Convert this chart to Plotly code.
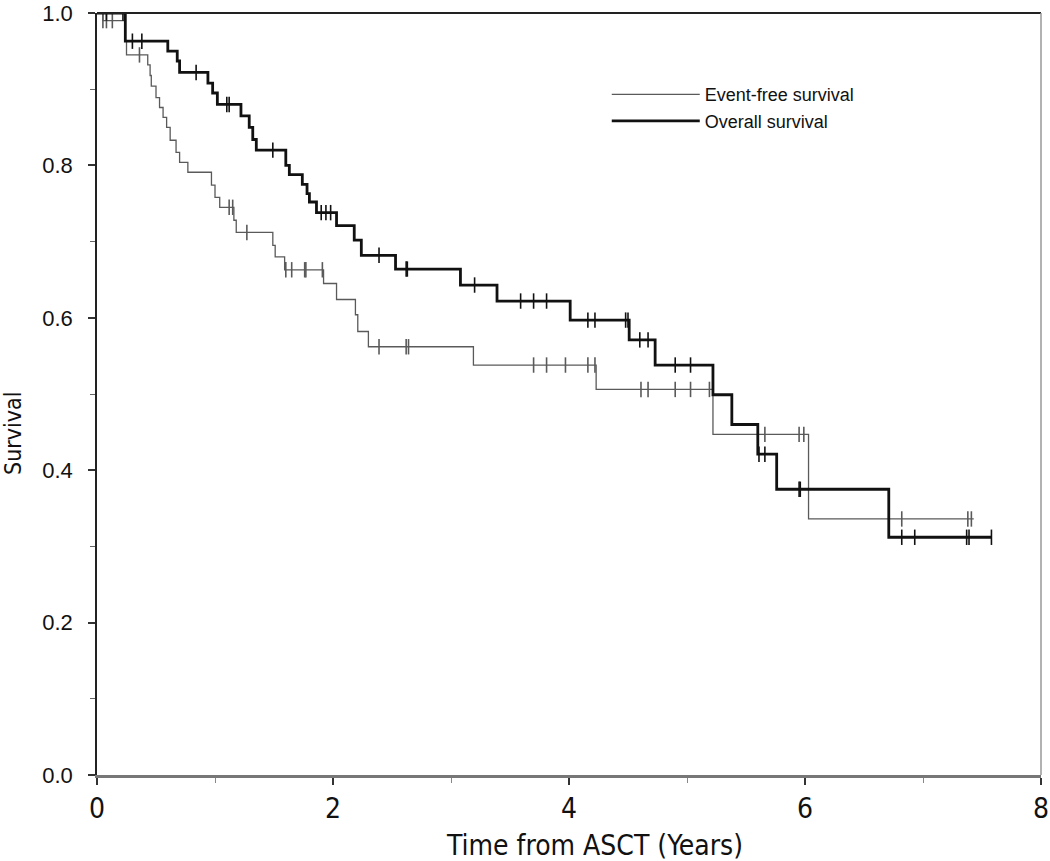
import numpy as np
import plotly.graph_objects as go

# Event-free survival: step times (years) and survival after each step
efs_t = [0.05, 0.24, 0.25, 0.43, 0.45, 0.46, 0.50, 0.53, 0.56, 0.59, 0.62, 0.67, 0.70,
         0.77, 0.97, 1.00, 1.04, 1.16, 1.18, 1.49, 1.51, 1.59, 1.92, 2.03, 2.19, 2.21,
         2.30, 3.19, 4.23, 5.22, 6.03]
efs_s = [0.990, 0.963, 0.945, 0.932, 0.918, 0.904, 0.889, 0.876, 0.863, 0.850, 0.833, 0.817, 0.804,
         0.791, 0.774, 0.758, 0.745, 0.728, 0.712, 0.695, 0.680, 0.663, 0.645, 0.624, 0.604, 0.582,
         0.562, 0.538, 0.506, 0.447, 0.336]
efs_end = 7.43
efs_cens = [0.05, 0.08, 0.13, 0.36, 1.12, 1.15, 1.27, 1.60, 1.65, 1.76, 1.77, 1.91, 2.39, 2.62,
            2.64, 3.70, 3.81, 3.97, 4.16, 4.22, 4.61, 4.67, 4.90, 5.03, 5.19, 5.66, 5.95, 5.99,
            6.82, 7.38, 7.41]

# Overall survival
os_t = [0.24, 0.60, 0.68, 0.70, 0.94, 0.98, 1.02, 1.22, 1.29, 1.32, 1.35, 1.60, 1.63, 1.74,
        1.78, 1.80, 1.86, 2.03, 2.18, 2.24, 2.53, 3.08, 3.39, 4.01, 4.51, 4.73, 5.22, 5.38,
        5.60, 5.76, 6.71]
os_s = [0.963, 0.950, 0.937, 0.922, 0.908, 0.895, 0.880, 0.865, 0.850, 0.834, 0.820, 0.800, 0.788, 0.775,
        0.763, 0.752, 0.738, 0.721, 0.702, 0.682, 0.664, 0.643, 0.622, 0.597, 0.571, 0.538, 0.499, 0.460,
        0.421, 0.375, 0.312]
os_end = 7.58
os_cens = [0.08, 0.22, 0.30, 0.38, 0.84, 1.10, 1.12, 1.49, 1.90, 1.94, 1.98, 2.39, 2.62, 2.63,
           3.20, 3.59, 3.70, 3.81, 4.16, 4.22, 4.48, 4.50, 4.60, 4.67, 4.90, 5.03, 5.61, 5.66,
           5.95, 5.96, 6.82, 6.93, 7.37, 7.39, 7.58]

series_names = ["Event-free survival", "Overall survival"]
x_ticks = [0, 2, 4, 6, 8]
y_ticks = [0.0, 0.2, 0.4, 0.6, 0.8, 1.0]
x_title = "Time from ASCT (Years)"
y_title = "Survival"

NARROW = "DejaVu Sans Condensed, Liberation Sans, Arial, sans-serif"
SANS = "Liberation Sans, Arial, sans-serif"


def step_path(t, s, end):
    return [0.0] + list(t) + [end], [1.0] + list(s) + [s[-1]]


def surv_at(t, s, c):
    t = np.asarray(t)
    s = np.asarray(s)
    out = []
    for ci in c:
        k = np.searchsorted(t, ci, side="right")
        out.append(1.0 if k == 0 else float(s[k - 1]))
    return out


fig = go.Figure()
styles = [
    dict(color="#5a5a5a", width=1.3),
    dict(color="#111111", width=2.8),
]
data = [(efs_t, efs_s, efs_end, efs_cens), (os_t, os_s, os_end, os_cens)]
for (t, s, end, c), name, st in zip(data, series_names, styles):
    xs, ys = step_path(t, s, end)
    fig.add_trace(go.Scatter(x=xs, y=ys, mode="lines", line=dict(shape="hv", **st),
                             name=name, legendgroup=name))
    fig.add_trace(go.Scatter(x=c, y=surv_at(t, s, c), mode="markers", showlegend=False,
                             legendgroup=name,
                             marker=dict(symbol="line-ns", size=11,
                                         line=dict(color=st["color"], width=1.6))))

fig.update_layout(
    width=1050, height=861,
    margin=dict(l=97, r=9, t=13, b=86, autoexpand=False),
    paper_bgcolor="white", plot_bgcolor="white",
    showlegend=True,
    legend=dict(x=0.54, y=0.917, xanchor="left", yanchor="top",
                font=dict(family=SANS, size=18, color="#111"),
                bgcolor="rgba(0,0,0,0)", itemwidth=88, tracegroupgap=0),
    font=dict(family=NARROW, color="#111"),
)
fig.update_xaxes(
    range=[0, 8], tickvals=x_ticks, ticktext=[str(v) for v in x_ticks],
    ticks="outside", ticklen=7, tickwidth=1.5, tickcolor="#333",
    minor=dict(dtick=1, ticks="outside", ticklen=5, tickcolor="#888", tickwidth=1),
    showgrid=False, zeroline=False, automargin=False,
    showline=True, linecolor="#777", linewidth=2.5,
    ticklabeloverflow="allow", ticklabelstandoff=0,
    tickfont=dict(family=NARROW, size=28),
)
fig.update_yaxes(
    range=[0, 1.0], tickvals=y_ticks, ticktext=["%.1f" % v for v in y_ticks],
    ticks="outside", ticklen=7, tickwidth=1.5, tickcolor="#333",
    minor=dict(dtick=0.1, ticks="outside", ticklen=5, tickcolor="#666", tickwidth=1),
    showgrid=False, zeroline=False, automargin=False,
    showline=True, linecolor="#222", linewidth=1.5,
    ticklabeloverflow="allow", ticklabelstandoff=11,
    tickfont=dict(family=SANS, size=22),
)
# axis titles (positioned like the reference, slightly off-centre)
fig.add_annotation(text=x_title, xref="paper", yref="paper", x=0.527, y=-0.092,
                   xanchor="center", yanchor="middle", showarrow=False,
                   font=dict(family=NARROW, size=28, color="#111"))
fig.add_annotation(text=y_title, xref="paper", yref="paper", x=-0.0897, y=0.448,
                   xanchor="center", yanchor="middle", showarrow=False, textangle=-90,
                   font=dict(family=NARROW, size=23, color="#111"))
# top and right frame
fig.add_shape(type="line", xref="paper", yref="paper", x0=0, x1=1, y0=1, y1=1,
              line=dict(color="#222", width=2))
fig.add_shape(type="line", xref="paper", yref="paper", x0=1, x1=1, y0=0, y1=1,
              line=dict(color="#999", width=1.5))

fig.write_html("out.html", config={"displayModeBar": False},
               post_script="document.body.style.margin='0';document.body.style.overflow='hidden';")
